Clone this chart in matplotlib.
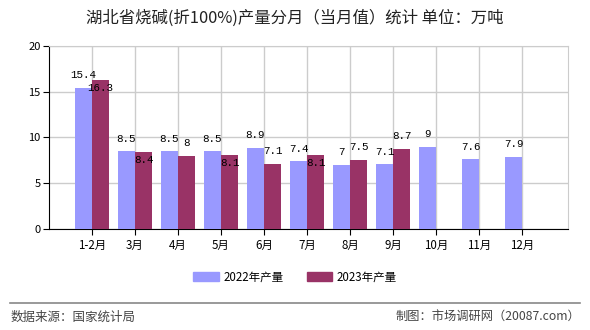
import numpy as np
import matplotlib
matplotlib.use("Agg")
import matplotlib.pyplot as plt
from matplotlib.patches import Patch

plt.rcParams['font.family'] = ['Noto Sans CJK SC', 'DejaVu Sans']

months = ['1-2月', '3月', '4月', '5月', '6月', '7月', '8月', '9月', '10月', '11月', '12月']
out_2022 = [15.4, 8.5, 8.5, 8.5, 8.9, 7.4, 7.0, 7.1, 9.0, 7.6, 7.9]
out_2023 = [16.3, 8.4, 8.0, 8.1, 7.1, 8.1, 7.5, 8.7]

c22 = '#9999ff'
c23 = '#993366'

# where the 2023 labels sit: 1 above the bar top, -1 just under it
lab_side_23 = [-1, -1, 1, -1, 1, -1, 1, 1]

fig = plt.figure(figsize=(5.9, 3.3), dpi=100)
ax = fig.add_axes([0.083, 0.306, 0.880, 0.555])

x = np.arange(len(months))
w = 0.4
ax.bar(x[:len(out_2022)] - w / 2, out_2022, w, color=c22, zorder=3)
ax.bar(x[:len(out_2023)] + w / 2, out_2023, w, color=c23, zorder=3)

lab_font = dict(family=['Liberation Mono', 'DejaVu Sans Mono'], fontsize=7.8,
                ha='center', va='center', zorder=5)
for i, v in enumerate(out_2022):
    ax.annotate('%g' % v, (i - w / 2, v), xytext=(0, 9), textcoords='offset points', **lab_font)
for i, v in enumerate(out_2023):
    off = 9.5 if lab_side_23[i] > 0 else -6
    ax.annotate('%g' % v, (i + w / 2, v), xytext=(0, off), textcoords='offset points', **lab_font)

ax.set_xlim(-1, 11.07)
ax.set_ylim(0, 20)
ax.set_yticks([0, 5, 10, 15, 20])
ax.set_xticks(x)
ax.set_xticklabels(months, fontsize=8.3)
ax.tick_params(axis='y', labelsize=8, length=4, direction='out', pad=2)
ax.tick_params(axis='x', length=4, direction='out', pad=3)
ax.grid(True, color='#cccccc', linewidth=1, zorder=0)
for s in ['top', 'right']:
    ax.spines[s].set_color('#cccccc')
for s in ['left', 'bottom']:
    ax.spines[s].set_color('black')

fig.text(0.5, 0.945, '湖北省烧碱(折100%)产量分月（当月值）统计 单位：万吨',
         ha='center', va='center', fontsize=11.8, color='#222222')

handles = [Patch(color=c22, label='2022年产量'), Patch(color=c23, label='2023年产量')]
fig.legend(handles=handles, loc='center', bbox_to_anchor=(0.5, 0.16), ncol=2,
           frameon=False, fontsize=8.3, handlelength=2.2, handleheight=0.8,
           columnspacing=2.0, handletextpad=0.4)

fig.add_artist(plt.Line2D([0.017, 0.983], [0.082, 0.082], color='#888888', linewidth=1.2))
fig.text(0.017, 0.04, '数据来源：国家统计局', ha='left', va='center', fontsize=9, color='#444444')
fig.text(0.983, 0.04, '制图：市场调研网（20087.com）', ha='right', va='center', fontsize=8.8, color='#444444')

fig.savefig('out.png', dpi=100)
